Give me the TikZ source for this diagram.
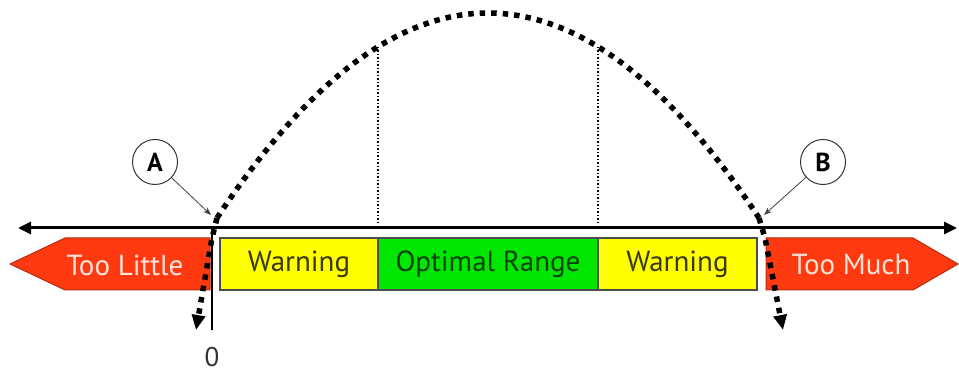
\documentclass[tikz,border=0pt]{standalone}
\usepackage{fontspec}
\setmainfont{PT Sans}
\usetikzlibrary{arrows.meta}
\definecolor{redfill}{HTML}{FF3A10}
\definecolor{redline}{HTML}{B82A10}
\definecolor{yel}{HTML}{FFFF00}
\definecolor{grn}{HTML}{00E600}
\definecolor{yeltext}{HTML}{38380C}
\definecolor{grntext}{HTML}{0C400C}
\definecolor{redtext}{HTML}{FFE4D8}
\tikzset{
  band/.style={draw=black!70, line width=1.2pt, minimum height=52pt, inner sep=0pt, font=\fontsize{29}{29}\selectfont},
  redshape/.style={fill=redfill, draw=redline, line width=1pt},
  redlabel/.style={text=redtext, font=\fontsize{29}{29}\selectfont},
  bigdots/.style={line width=5.5pt, dash pattern=on 5.5pt off 6pt},
  thindots/.style={line width=1.3pt, dash pattern=on 1.5pt off 2pt},
  letter/.style={circle, draw=black!80, line width=1pt, minimum size=45pt, inner sep=0pt, font=\fontsize{26}{26}\selectfont\bfseries},
  pointer/.style={line width=0.8pt, draw=black!75, -{Stealth[length=8pt,width=6pt]}},
}
\begin{document}
\begin{tikzpicture}[x=1pt,y=-1pt]
\useasboundingbox (0,0) rectangle (959,374);
% red arrows
\draw[redshape] (210,238) -- (65,238) -- (10,264) -- (65,290) -- (210,290) -- cycle;
\node[redlabel] (little) at (125,265) {Too Little};
\draw[redshape] (766,238) -- (913,238) -- (958,264) -- (913,290) -- (766,290) -- cycle;
\node[redlabel] (much) at (851,265) {Too Much};
% bands
\node[band, fill=yel, text=yeltext, minimum width=158pt] (w1) at (299,264) {Warning};
\node[band, fill=grn, text=grntext, minimum width=220pt] (opt) at (488,264) {Optimal Range};
\node[band, fill=yel, text=yeltext, minimum width=159pt] (w2) at (677.5,264) {Warning};
% axis
\coordinate (axl) at (18,228);
\coordinate (axr) at (957,228);
\draw[line width=3pt, {Triangle[length=13pt,width=12pt]}-{Triangle[length=13pt,width=12pt]}] (axl) -- (axr);
% zero line
\coordinate (z0) at (212,228);
\coordinate (z1) at (212,330);
\draw[line width=2.5pt] (z0) -- (z1);
\node[font=\fontsize{27}{27}\selectfont, text=black!80] (zero) at (212,357) {0};
% thin dotted verticals
\draw[thindots] (378,47) -- (378,224);
\draw[thindots] (598,47) -- (598,224);
% curve
\coordinate (apt) at (217,218);
\coordinate (bpt) at (759,218);
\draw[bigdots] plot[domain=217:759, samples=80] (\x,{13+27.9*((\x-488)/100)^2});
\draw[bigdots, -{Triangle[length=15pt,width=13pt]}] (apt) -- (212,238) -- (196,330);
\draw[bigdots, -{Triangle[length=15pt,width=13pt]}] (bpt) -- (765,238) -- (783,330);
% letters
\node[letter] (A) at (155,162) {A};
\node[letter] (B) at (823,162) {B};
\draw[pointer] (A) -- (211,215);
\draw[pointer] (B) -- (764,215);
\end{tikzpicture}
\end{document}
